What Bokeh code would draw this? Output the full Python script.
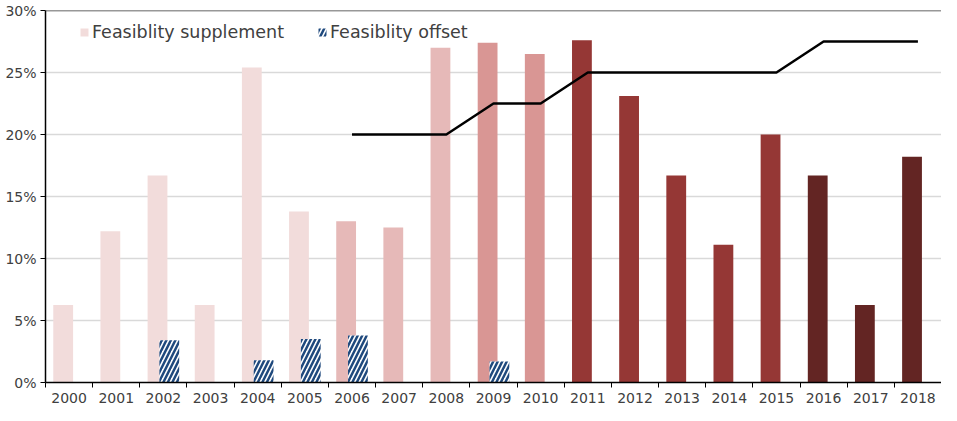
import numpy as np
from bokeh.plotting import figure
from bokeh.models import (ColumnDataSource, Range1d, FixedTicker, NumeralTickFormatter,
                          Legend, LegendItem, Span)
from bokeh.transform import dodge
from bokeh.embed import file_html
from bokeh.resources import INLINE

years = ["2000", "2001", "2002", "2003", "2004", "2005", "2006", "2007", "2008", "2009",
         "2010", "2011", "2012", "2013", "2014", "2015", "2016", "2017", "2018"]
supplement = [0.0625, 0.122, 0.167, 0.0625, 0.254, 0.138, 0.130, 0.125, 0.270, 0.274,
              0.265, 0.276, 0.231, 0.167, 0.111, 0.200, 0.167, 0.0625, 0.182]
offset = [0, 0, 0.034, 0, 0.018, 0.035, 0.038, 0, 0, 0.017,
          0, 0, 0, 0, 0, 0, 0, 0, 0]
threshold = [np.nan, np.nan, np.nan, np.nan, np.nan, np.nan, 0.20, 0.20, 0.20, 0.225,
             0.225, 0.25, 0.25, 0.25, 0.25, 0.25, 0.275, 0.275, 0.275]
colors = ["#F2DCDB"] * 6 + ["#E6B9B8"] * 3 + ["#D99694"] * 2 + ["#953735"] * 5 + ["#632523"] * 3

xc = np.arange(len(years)) + 0.5
src = ColumnDataSource(dict(x=xc, sup=supplement, off=offset, thr=threshold, col=colors))

font = "DejaVu Sans"
p = figure(width=941, height=405, output_backend="svg", toolbar_location=None,
           x_range=Range1d(0, len(years)), y_range=Range1d(0, 0.30),
           min_border_left=45, min_border_right=0, min_border_top=10, min_border_bottom=22)
p.outline_line_color = None
p.xgrid.visible = False
p.ygrid.grid_line_color = "#D9D9D9"
p.ygrid.grid_line_width = 1.5

r_sup = p.vbar(x=dodge("x", -0.125), top="sup", width=0.42, source=src,
               fill_color="col", line_color=None)
off_src = ColumnDataSource(dict(x=[xc[i] for i in range(len(years)) if offset[i] > 0],
                                off=[o for o in offset if o > 0]))
r_off = p.vbar(x=dodge("x", 0.125), top="off", width=0.42, source=off_src,
               fill_color="white", line_color=None, hatch_pattern="/",
               hatch_color="#1F497D", hatch_scale=9, hatch_weight=2.5)
p.line(x="x", y="thr", source=src, line_color="black", line_width=2.5)

p.add_layout(Span(location=0.30, dimension="width", line_color="#333333", line_width=1.5))

# y axis
p.yaxis.ticker = FixedTicker(ticks=[0, 0.05, 0.10, 0.15, 0.20, 0.25, 0.30])
p.yaxis.formatter = NumeralTickFormatter(format="0%")
p.yaxis.axis_line_color = "black"
p.yaxis.axis_line_width = 1.5
p.yaxis.major_tick_line_color = "black"
p.yaxis.major_tick_in = 0
p.yaxis.major_tick_out = 5
p.yaxis.minor_tick_line_color = None
p.yaxis.major_label_text_font = font
p.yaxis.major_label_text_font_size = "14px"
p.yaxis.major_label_text_color = "#404040"
p.yaxis.major_label_standoff = 4

# x axis: labels at centers, ticks at boundaries
p.xaxis.ticker = FixedTicker(ticks=list(xc), minor_ticks=list(range(len(years) + 1)))
p.xaxis.major_label_overrides = {float(x): y for x, y in zip(xc, years)}
p.xaxis.major_tick_line_color = None
p.xaxis.minor_tick_line_color = "black"
p.xaxis.minor_tick_in = 0
p.xaxis.minor_tick_out = 5
p.xaxis.axis_line_color = "black"
p.xaxis.axis_line_width = 1.5
p.xaxis.major_label_text_font = font
p.xaxis.major_label_text_font_size = "14px"
p.xaxis.major_label_text_color = "#404040"
p.xaxis.major_label_standoff = 4

legend = Legend(items=[LegendItem(label="Feasiblity supplement", renderers=[r_sup], index=0),
                       LegendItem(label="Feasiblity offset", renderers=[r_off], index=0)],
                orientation="horizontal", location=(30, 336), margin=0, padding=4,
                spacing=33, glyph_width=10, glyph_height=10, label_standoff=3,
                label_text_font=font, label_text_font_size="17.5px", label_text_color="#404040",
                background_fill_alpha=0, border_line_alpha=0)
p.add_layout(legend, "center")

open("out.html", "w").write(file_html(p, INLINE))
